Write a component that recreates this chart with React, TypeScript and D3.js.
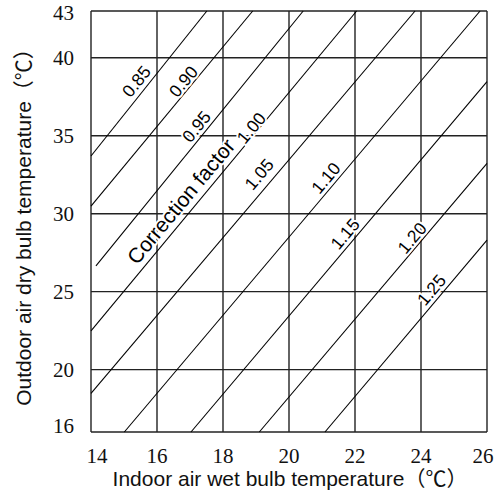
import React from 'react';
import * as d3 from 'd3';

// Axis ticks
const xTicks = [14, 16, 18, 20, 22, 24, 26];
const yTicks = [16, 20, 25, 30, 35, 40, 43];

// Correction factor lines (data coordinates: indoor WB x, outdoor DB y)
const factorLabels = ['0.85', '0.90', '0.95', '1.00', '1.05', '1.10', '1.15', '1.20', '1.25'];
const lineStartX = [14, 14, 14.15, 14, 14, 15.01, 17.03, 19.1, 21.09];
const lineStartY = [33.7, 30.49, 26.65, 22.48, 18.48, 16, 16, 16, 16];
const lineEndX = [17.51, 18.9, 20.43, 22.05, 23.82, 25.79, 26, 26, 26];
const lineEndY = [43, 43, 43, 43, 43, 43, 38.47, 33.23, 28.31];

// Label centers (data coordinates)
const labelX = [15.38, 16.8, 17.2, 18.86, 19.1, 21.12, 21.7, 23.73, 24.32];
const labelY = [38.48, 38.47, 35.58, 35.5, 32.53, 32.29, 28.7, 28.44, 25.11];

const captionText = 'Correction factor';
const captionX = 16.72;
const captionY = 30.8;
const captionLine = 3;

const xTitle = 'Indoor air wet bulb temperature（℃）';
const yTitle = 'Outdoor air dry bulb temperature（℃）';

export default function App() {
  const W = 494;
  const H = 495;
  const x = d3.scaleLinear().domain([14, 26]).range([91, 487]);
  const y = d3.scaleLinear().domain([16, 43]).range([432, 11]);
  const line = d3
    .line<[number, number]>()
    .x((d) => x(d[0]))
    .y((d) => y(d[1]));

  const angleOf = (i: number) =>
    (Math.atan2(y(lineEndY[i]) - y(lineStartY[i]), x(lineEndX[i]) - x(lineStartX[i])) * 180) / Math.PI;

  const sans = "'Liberation Sans', Arial, 'Noto Sans CJK SC', sans-serif";
  const serif = "'Liberation Serif', 'Times New Roman', serif";
  const gridColor = '#222';

  const halo = {
    stroke: '#fff',
    strokeWidth: 4,
    paintOrder: 'stroke' as const,
    strokeLinejoin: 'round' as const,
  };

  return (
    <svg
      width={W}
      height={H}
      viewBox={`0 0 ${W} ${H}`}
      style={{ position: 'absolute', left: 0, top: 0, background: '#fff' }}
    >
      <rect x={0} y={0} width={W} height={H} fill="#fff" />
      {/* grid */}
      <g stroke={gridColor} strokeWidth={1.4} fill="none">
        {xTicks.map((t) => (
          <line key={'vx' + t} x1={x(t)} x2={x(t)} y1={y(43)} y2={y(16)} />
        ))}
        {yTicks.map((t) => (
          <line key={'hy' + t} x1={x(14)} x2={x(26)} y1={y(t)} y2={y(t)} />
        ))}
      </g>
      {/* correction factor lines */}
      <g stroke="#000" strokeWidth={1.1} fill="none">
        {factorLabels.map((f, i) => (
          <path
            key={'l' + f}
            d={line([
              [lineStartX[i], lineStartY[i]],
              [lineEndX[i], lineEndY[i]],
            ]) || ''}
          />
        ))}
      </g>
      {/* factor labels */}
      <g fontFamily={sans} fill="#000">
        {factorLabels.map((f, i) => (
          <text
            key={'t' + f}
            transform={`translate(${x(labelX[i])},${y(labelY[i])}) rotate(${angleOf(i)})`}
            textAnchor="middle"
            dominantBaseline="central"
            fontSize={17.5}
            {...halo}
          >
            {f}
          </text>
        ))}
        <text
          transform={`translate(${x(captionX)},${y(captionY)}) rotate(${angleOf(captionLine)})`}
          textAnchor="middle"
          dominantBaseline="central"
          fontSize={21}
          {...halo}
        >
          {captionText}
        </text>
      </g>
      {/* y tick labels */}
      <g fontFamily={serif} fontSize={21} fill="#111">
        {yTicks.map((t, i) => (
          <text
            key={'yt' + t}
            x={74}
            y={y(t) + (i === 0 ? -6 : i === yTicks.length - 1 ? 2 : 0)}
            textAnchor="end"
            dominantBaseline="central"
          >
            {t}
          </text>
        ))}
      </g>
      {/* x tick labels */}
      <g fontFamily={serif} fontSize={21} fill="#111">
        {xTicks.map((t, i) => (
          <text
            key={'xt' + t}
            x={x(t) + (i === 0 ? 6 : i === xTicks.length - 1 ? -4 : 0)}
            y={456}
            textAnchor="middle"
            dominantBaseline="central"
          >
            {t}
          </text>
        ))}
      </g>
      {/* axis titles */}
      <text x={290} y={486} textAnchor="middle" fontFamily={sans} fontSize={21} fill="#111">
        {xTitle}
      </text>
      <text
        transform={`translate(31,222) rotate(-90)`}
        textAnchor="middle"
        fontFamily={sans}
        fontSize={21}
        fill="#111"
      >
        {yTitle}
      </text>
    </svg>
  );
}
